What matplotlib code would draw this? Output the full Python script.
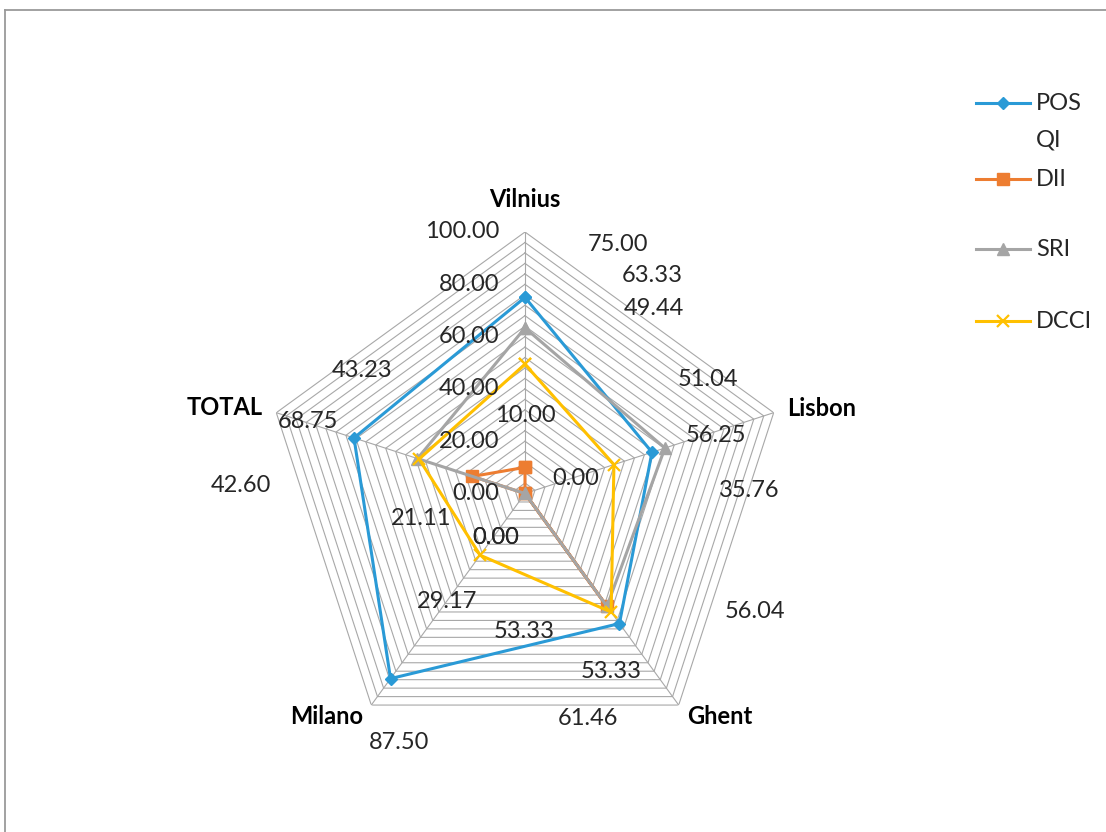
import numpy as np
import matplotlib
matplotlib.use("Agg")
import matplotlib.pyplot as plt
from matplotlib.lines import Line2D

# ---------------- data ----------------
categories = ["Vilnius", "Lisbon", "Ghent", "Milano", "TOTAL"]
pos_qi = [75.00, 51.04, 61.46, 87.50, 68.75]
dii = [10.00, 0.00, 53.33, 0.00, 21.11]
sri = [63.33, 56.25, 53.33, 0.00, 43.23]
dcci = [49.44, 35.76, 56.04, 29.17, 42.60]
series_names = ["POS\nQI", "DII", "SRI", "DCCI"]
r_ticks = [0, 20, 40, 60, 80, 100]
minor_step = 4
r_max = 100

# ---------------- style / layout ----------------
W, H = 1106, 832
colors = ["#2A9AD6", "#ED7D31", "#A5A5A5", "#FFC000"]
markers = ["D", "s", "^", "x"]
msizes = [6.5, 8.5, 8.5, 9]
grid_color = "#A8A8A8"
text_color = "#262626"
fs = 17

# data-label offsets in image pixels (dx right, dy down), per series per category
label_offsets = [
    [(93, -53), (56, -73), (-31, 95), (9, 64), (-46, -16)],      # POS QI
    [(0, -52), (51, -15), (-83, 25), (-29, 44), (-51, 42)],      # DII
    [(127, -52), (51, -13), (4, 65), (-29, 44), (-55, -88)],     # SRI
    [(129, -56), (135, 26), (144, -1), (-33, 46), (-178, 26)],   # DCCI
]
# category label offsets (pixels, dy down) and alignment
cat_offsets = [(0, -32), (13, -4), (8, 11), (-8, 11), (-14, -5)]
cat_ha = ["center", "left", "left", "right", "right"]

plt.rcParams["font.family"] = ["Lato", "DejaVu Sans"]

fig = plt.figure(figsize=(W / 100, H / 100), dpi=100)
cx, cy, rad = 525, 493.5, 261.5
ax = fig.add_axes([(cx - rad) / W, (H - cy - rad) / H, 2 * rad / W, 2 * rad / H],
                  projection="polar")
ax.set_theta_offset(np.pi / 2)
ax.set_theta_direction(-1)
ax.set_ylim(0, r_max)
ax.grid(False)
ax.set_xticks([])
ax.set_yticks([])
ax.spines["polar"].set_visible(False)
ax.patch.set_alpha(0)

n = len(categories)
angles = np.arange(n) * 2 * np.pi / n
ang_c = np.append(angles, angles[0])

# polygon gridlines
for r in np.arange(minor_step, r_max + 0.1, minor_step):
    ax.plot(ang_c, [r] * (n + 1), color=grid_color, lw=0.8, zorder=1)
for a in angles:
    ax.plot([a, a], [0, r_max], color=grid_color, lw=0.8, zorder=1)

# series
all_series = [pos_qi, dii, sri, dcci]
for i, vals in enumerate(all_series):
    vc = list(vals) + [vals[0]]
    ax.plot(ang_c, vc, color=colors[i], lw=2.2, marker=markers[i],
            ms=msizes[i], mew=1.6 if markers[i] == "x" else 1,
            zorder=3 + i, clip_on=False)

# data labels
for i, vals in enumerate(all_series):
    for j, v in enumerate(vals):
        dx, dy = label_offsets[i][j]
        ax.annotate(f"{v:.2f}", xy=(angles[j], v), xytext=(dx, -dy),
                    textcoords="offset pixels", ha="center", va="center",
                    fontsize=fs, color=text_color, zorder=10)

# radial tick labels
for t in r_ticks:
    ax.annotate(f"{t:.2f}", xy=(0, t), xytext=(-26, 0),
                textcoords="offset pixels", ha="right", va="center",
                fontsize=fs, color=text_color, zorder=10)

# category labels
for j, c in enumerate(categories):
    dx, dy = cat_offsets[j]
    ax.annotate(c, xy=(angles[j], r_max), xytext=(dx, -dy),
                textcoords="offset pixels", ha=cat_ha[j], va="center",
                fontsize=fs, fontweight="bold", color="black", zorder=10,
                annotation_clip=False)

# legend (manual, Excel-like)
leg_y = [103, 179, 249, 321]
for i, name in enumerate(series_names):
    y = 1 - leg_y[i] / H
    xs = np.array([976, 1003, 1030]) / W
    fig.add_artist(Line2D(xs, [y] * 3, color=colors[i], lw=2.2,
                          marker=markers[i], ms=msizes[i],
                          mew=1.6 if markers[i] == "x" else 1,
                          markevery=[1], transform=fig.transFigure))
    fig.text(1036 / W, y + 10 / H, name, ha="left", va="top",
             fontsize=fs, color=text_color, linespacing=1.9)

# chart area border
fig.add_artist(Line2D([5 / W, 5 / W], [0, 1 - 10 / H], color="#9A9A9A", lw=1.3,
                      transform=fig.transFigure))
fig.add_artist(Line2D([5 / W, 1], [1 - 10 / H, 1 - 10 / H], color="#9A9A9A", lw=1.3,
                      transform=fig.transFigure))

fig.savefig("out.png", dpi=100, facecolor="white")
